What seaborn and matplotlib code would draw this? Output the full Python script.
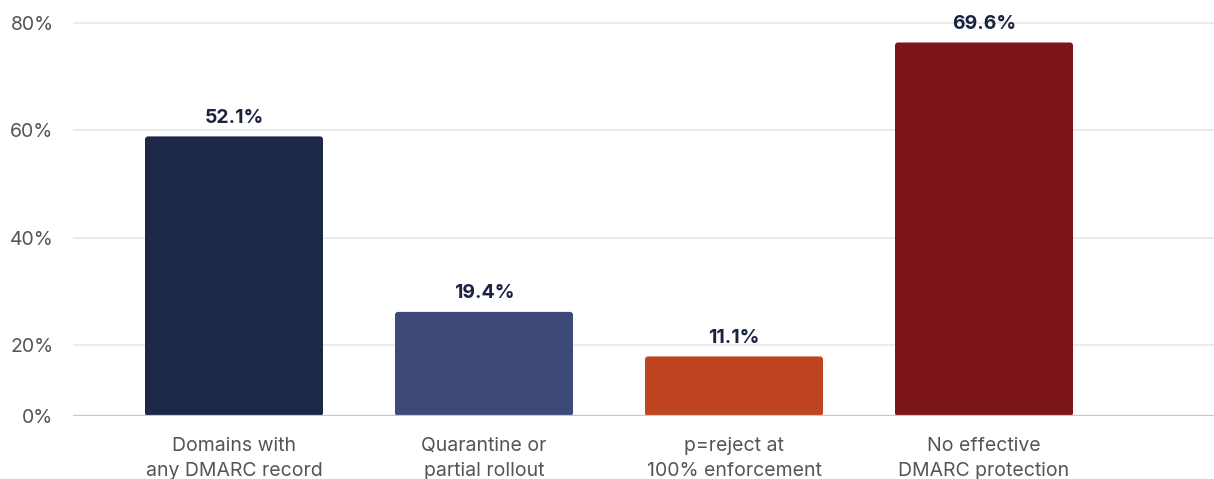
import matplotlib
matplotlib.use("Agg")
import matplotlib.pyplot as plt
from matplotlib.patches import FancyBboxPatch
import seaborn as sns
import pandas as pd

categories = ["Domains with\nany DMARC record", "Quarantine or\npartial rollout",
              "p=reject at\n100% enforcement", "No effective\nDMARC protection"]
values = [52.1, 19.4, 11.1, 69.6]
value_labels = ["52.1%", "19.4%", "11.1%", "69.6%"]
colors = ["#1d2748", "#3d4a77", "#bf4520", "#7b1517"]
tick_values = [0, 20, 40, 60, 80]
tick_labels = ["0%", "20%", "40%", "60%", "80%"]
# the reference axis draws its non-zero gridlines shifted down by this amount
tick_shift = 6.77

sns.set_theme(style="white")
plt.rcParams["font.family"] = ["Inter", "DejaVu Sans"]

df = pd.DataFrame({"category": categories, "value": values})

fig = plt.figure(figsize=(12.14, 4.79), dpi=100)
ax = fig.add_axes([73 / 1214, 63 / 479, 1141 / 1214, 393.9 / 479])

sns.barplot(data=df, x="category", y="value", hue="category", palette=colors,
            width=0.712, legend=False, ax=ax, saturation=1, zorder=3)

ax.set_xlim(-0.644, 3.92)
ax.set_ylim(0, 73.4)

# rounded corners on the bars seaborn drew
px_x = (3.92 + 0.644) / 1141
px_y = 73.4 / 393.9
for p in list(ax.patches):
    x, y, w, h = p.get_x(), p.get_y(), p.get_width(), p.get_height()
    fb = FancyBboxPatch((x, y), w, h,
                        boxstyle=f"round,pad=0,rounding_size={3 * px_x}",
                        mutation_aspect=px_y / px_x,
                        facecolor=p.get_facecolor(), edgecolor="none", zorder=3)
    p.set_visible(False)
    ax.add_patch(fb)

tick_pos = [t if t == 0 else t - tick_shift for t in tick_values]
ax.set_yticks(tick_pos)
ax.set_yticklabels(tick_labels)
for p in tick_pos[1:]:
    ax.axhline(p, color="#ebebeb", lw=1.4, zorder=1)
ax.axhline(0, color="#c8c8c8", lw=1.6, zorder=4)

for sp in ax.spines.values():
    sp.set_visible(False)
ax.tick_params(axis="both", length=0, labelsize=14, labelcolor="#555555")
ax.tick_params(axis="y", pad=14)
ax.tick_params(axis="x", pad=15)
for lbl in ax.get_xticklabels():
    lbl.set_linespacing(1.48)
ax.set_xlabel("")
ax.set_ylabel("")

for i, (v, lab) in enumerate(zip(values, value_labels)):
    ax.annotate(lab, xy=(i, v), xytext=(0, 7), textcoords="offset points",
                ha="center", va="bottom", fontsize=14, fontweight="bold",
                color="#1a2340", zorder=5)

fig.savefig("out.png", dpi=100)
